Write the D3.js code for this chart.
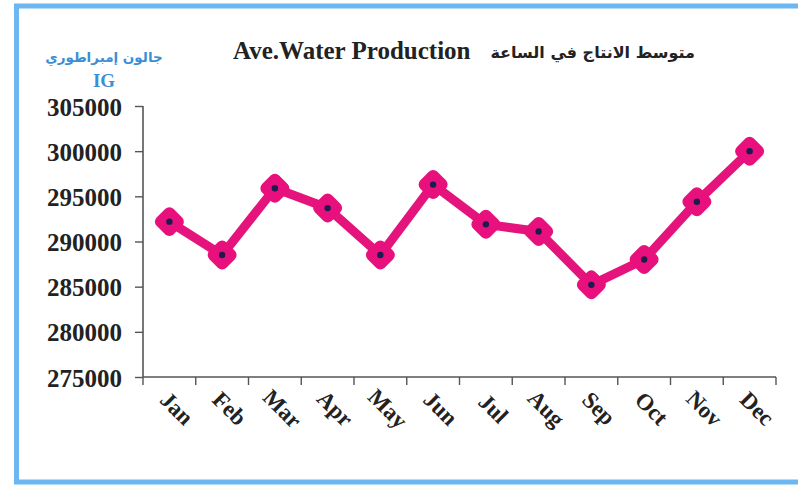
<!DOCTYPE html>
<html><head><meta charset="utf-8">
<script src="https://cdn.jsdelivr.net/npm/d3@7"></script>
<style>body{margin:0;background:#fff}svg{display:block}</style>
</head><body>
<script>
const months = ["Jan","Feb","Mar","Apr","May","Jun","Jul","Aug","Sep","Oct","Nov","Dec"];
const production = [292200, 288500, 295900, 293700, 288500, 296300, 291900, 291100, 285200, 288000, 294400, 300000];
const yTicks = [275000, 280000, 285000, 290000, 295000, 300000, 305000];
const titleEn = "Ave.Water Production";
const titleAr = "متوسط الانتاج في الساعة";
const unitAr = "جالون إمبراطوري";
const unitEn = "IG";

const W = 798, H = 485;
const svg = d3.select("body").append("svg").attr("width", W).attr("height", H);

// frame
svg.append("rect").attr("x", 16.5).attr("y", 6).attr("width", 790).attr("height", 476)
  .attr("fill", "#fff").attr("stroke", "#6cb6f2").attr("stroke-width", 5);

const x = d3.scaleBand().domain(months).range([143, 776]);
const y = d3.scaleLinear().domain([275000, 305000]).range([377, 106]);

const serif = "'Liberation Serif','Times New Roman',serif";

// y axis
const yAxis = svg.append("g").attr("transform", "translate(143,0)")
  .call(d3.axisLeft(y).tickValues(yTicks).tickSize(8).tickPadding(13).tickFormat(d3.format("d")));
yAxis.select(".domain").attr("stroke", "#555").attr("stroke-width", 1.6).attr("d", "M0,106V377");
yAxis.selectAll(".tick line").attr("stroke", "#555").attr("stroke-width", 1.4);
yAxis.selectAll(".tick text").attr("font-family", serif).attr("font-weight", "bold")
  .attr("font-size", 25).attr("fill", "#222").attr("dy", "0.36em");

// x axis
const xAxis = svg.append("g").attr("transform", "translate(0,377)")
  .call(d3.axisBottom(x).tickSize(0).tickFormat(""));
xAxis.select(".domain").attr("stroke", "#555").attr("stroke-width", 1.6).attr("d", "M143,0H776");
const bounds = months.map(m => x(m)).concat([x.range()[1]]);
xAxis.selectAll(".bt").data(bounds).enter().append("line")
  .attr("x1", d => d).attr("x2", d => d).attr("y1", 0).attr("y2", 8)
  .attr("stroke", "#555").attr("stroke-width", 1.4);
xAxis.selectAll(".lbl").data(months).enter().append("text")
  .attr("transform", d => `translate(${x(d) + x.bandwidth()/2 + 2},${37}) rotate(45)`)
  .attr("font-family", serif).attr("font-weight", "bold").attr("font-size", 23)
  .attr("fill", "#222").text(d => d);

// line
const cx = d => x(d) + x.bandwidth()/2;
const data = months.map((m, i) => ({m, v: production[i]}));
svg.append("path").datum(data)
  .attr("d", d3.line().x(d => cx(d.m)).y(d => y(d.v)))
  .attr("fill", "none").attr("stroke", "#e5137c").attr("stroke-width", 9).attr("stroke-linejoin", "round");

const mk = svg.selectAll(".mk").data(data).enter().append("g")
  .attr("transform", d => `translate(${cx(d.m)},${y(d.v)})`);
mk.append("rect").attr("x", -12).attr("y", -12).attr("width", 24).attr("height", 24)
  .attr("rx", 6).attr("transform", "rotate(45)").attr("fill", "#e8107c");
mk.append("circle").attr("r", 3.2).attr("fill", "#1c1c50");

// titles
svg.append("text").attr("x", 233).attr("y", 59).attr("font-family", serif)
  .attr("font-weight", "bold").attr("font-size", 25).attr("fill", "#222").text(titleEn);
svg.append("text").attr("x", 695).attr("y", 58).attr("text-anchor", "end")
  .attr("font-family", "'DejaVu Sans',sans-serif").attr("font-weight", "bold")
  .attr("font-size", 16).attr("fill", "#222").text(titleAr);
svg.append("text").attr("x", 104).attr("y", 62).attr("text-anchor", "middle")
  .attr("font-family", "'DejaVu Sans',sans-serif").attr("font-weight", "bold")
  .attr("font-size", 13.5).attr("fill", "#3a8fd6").text(unitAr);
svg.append("text").attr("x", 104).attr("y", 87).attr("text-anchor", "middle")
  .attr("font-family", serif).attr("font-weight", "bold")
  .attr("font-size", 19).attr("fill", "#3a8fd6").text(unitEn);
</script>
</body></html>
